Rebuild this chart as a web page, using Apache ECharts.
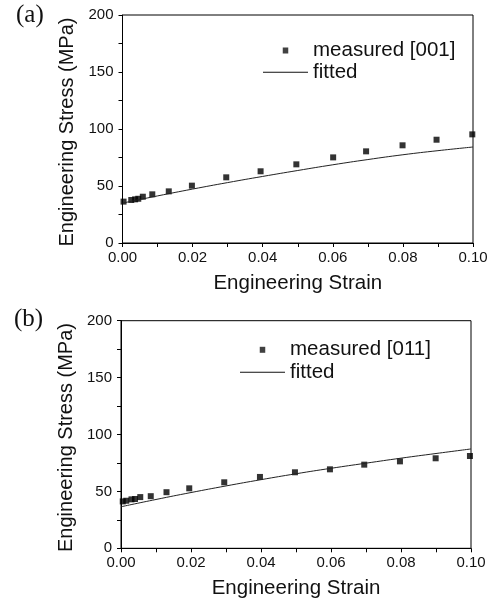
<!DOCTYPE html>
<html>
<head>
<meta charset="utf-8">
<script src="https://cdn.jsdelivr.net/npm/echarts@6/dist/echarts.min.js"></script>
<style>
html,body{margin:0;padding:0;background:#fff;}
#chart{width:495px;height:601px;}
</style>
</head>
<body>
<div id="chart"></div>
<script>
// Panel (a) measured [001]
const strainA = [0.0003, 0.0025, 0.0036, 0.0045, 0.0058, 0.0085, 0.0132, 0.0198, 0.0296, 0.0394, 0.0496, 0.0601, 0.0695, 0.0799, 0.0896, 0.0998];
const stressA = [36.3, 37.7, 38.3, 38.8, 40.6, 42.7, 45.3, 50.3, 57.6, 62.9, 69.0, 75.1, 80.4, 85.7, 90.6, 95.3];
// Panel (b) measured [011]
const strainB = [0.0005, 0.0015, 0.003, 0.004, 0.0055, 0.0085, 0.013, 0.0195, 0.0295, 0.0397, 0.0497, 0.0597, 0.0695, 0.0797, 0.0899, 0.0997];
const stressB = [41.2, 41.8, 43.0, 43.3, 45.0, 45.8, 49.3, 52.7, 58.0, 62.7, 66.8, 69.4, 73.5, 76.4, 79.1, 81.1];
// Fitted curves
const fitStrain = [0, 0.01, 0.02, 0.03, 0.04, 0.05, 0.06, 0.07, 0.08, 0.09, 0.10];
const fitA = [35.0, 41.3, 47.3, 53.0, 58.4, 63.6, 68.6, 73.2, 77.4, 81.0, 84.2];
const fitB = [36.5, 42.9, 49.0, 54.8, 60.3, 65.5, 70.3, 74.8, 79.2, 83.3, 87.3];
const panelLabels = ['(a)', '(b)'];
const seriesNames = ['measured [001]', 'measured [011]', 'fitted'];

const zip = (xs, ys) => xs.map((x, i) => [x, ys[i]]);
const FONT = 'Liberation Sans, Arial, sans-serif';

function xAxisCfg(gi) {
  return {
    type: 'value', gridIndex: gi, min: 0, max: 0.10, interval: 0.02,
    name: 'Engineering Strain', nameLocation: 'middle', nameGap: 30,
    nameTextStyle: {fontFamily: FONT, fontSize: 20.5, color: '#111'},
    axisLine: {show: true, onZero: false, lineStyle: {color: '#000', width: 1}},
    axisTick: {show: true, inside: false, length: 4, lineStyle: {color: '#000'}},
    minorTick: {show: true, splitNumber: 2, length: 4, lineStyle: {color: '#000'}},
    splitLine: {show: false}, minorSplitLine: {show: false},
    axisLabel: {fontFamily: FONT, fontSize: 15, color: '#111', margin: 7,
      formatter: v => v.toFixed(2)}
  };
}
function yAxisCfg(gi) {
  return {
    type: 'value', gridIndex: gi, min: 0, max: 200, interval: 50,
    name: 'Engineering Stress (MPa)', nameLocation: 'middle', nameGap: 44,
    nameTextStyle: {fontFamily: FONT, fontSize: 20, color: '#111', padding: [0, 6, 0, 0]},
    axisLine: {show: true, onZero: false, lineStyle: {color: '#000', width: 1}},
    axisTick: {show: true, inside: false, length: 4, lineStyle: {color: '#000'}},
    minorTick: {show: true, splitNumber: 2, length: 4, lineStyle: {color: '#000'}},
    splitLine: {show: false}, minorSplitLine: {show: false},
    axisLabel: {fontFamily: FONT, fontSize: 15, color: '#111', margin: 9}
  };
}
const sqIcon = 'path://M0,0M45,14M19.75,4h5.5v6h-5.5z';
const lineIcon = 'path://M0,0M45,14M0,6.5h45v1h-45z';
function legendCfg(name, left, top, icon) {
  return {
    data: [{name: name, icon: icon, itemStyle: {color: '#111', borderWidth: 0}}],
    left: left, top: top, orient: 'vertical',
    itemWidth: 45, itemHeight: 14, padding: 0,
    selectedMode: false,
    textStyle: {fontFamily: FONT, fontSize: 20.5, color: '#111'}
  };
}

const option = {
  animation: false,
  backgroundColor: '#fff',
  grid: [
    {left: 122.5, top: 15, width: 350.5, height: 228, show: true, borderColor: '#000', borderWidth: 1, backgroundColor: 'transparent'},
    {left: 121, top: 320.7, width: 350, height: 227.6, show: true, borderColor: '#000', borderWidth: 1, backgroundColor: 'transparent'}
  ],
  xAxis: [xAxisCfg(0), xAxisCfg(1)],
  yAxis: [yAxisCfg(0), yAxisCfg(1)],
  legend: [
    legendCfg(seriesNames[0], 263, 40, sqIcon),
    legendCfg(seriesNames[2], 263, 61.7, lineIcon),
    legendCfg(seriesNames[1], 240, 339.3, sqIcon),
    legendCfg(seriesNames[2], 240, 361.7, lineIcon)
  ],
  graphic: [
    {type: 'text', left: 16, top: 3, style: {text: panelLabels[0], font: '25px "Liberation Serif", "Times New Roman", serif', fill: '#111'}},
    {type: 'text', left: 14, top: 307, style: {text: panelLabels[1], font: '25px "Liberation Serif", "Times New Roman", serif', fill: '#111'}}
  ],
  series: [
    {name: seriesNames[0], type: 'scatter', xAxisIndex: 0, yAxisIndex: 0, symbol: 'rect', symbolSize: 6,
      itemStyle: {color: '#000'}, data: zip(strainA, stressA), clip: false},
    {name: seriesNames[2], type: 'line', xAxisIndex: 0, yAxisIndex: 0, smooth: true, showSymbol: false, symbol: 'none',
      lineStyle: {color: '#222', width: 1}, itemStyle: {color: '#222'}, data: zip(fitStrain, fitA)},
    {name: seriesNames[1], type: 'scatter', xAxisIndex: 1, yAxisIndex: 1, symbol: 'rect', symbolSize: 6,
      itemStyle: {color: '#000'}, data: zip(strainB, stressB), clip: false},
    {name: seriesNames[2], type: 'line', xAxisIndex: 1, yAxisIndex: 1, smooth: true, showSymbol: false, symbol: 'none',
      lineStyle: {color: '#222', width: 1}, itemStyle: {color: '#222'}, data: zip(fitStrain, fitB)}
  ]
};
const chart = echarts.init(document.getElementById('chart'), null, {renderer: 'canvas'});
chart.setOption(option);
</script>
</body>
</html>
